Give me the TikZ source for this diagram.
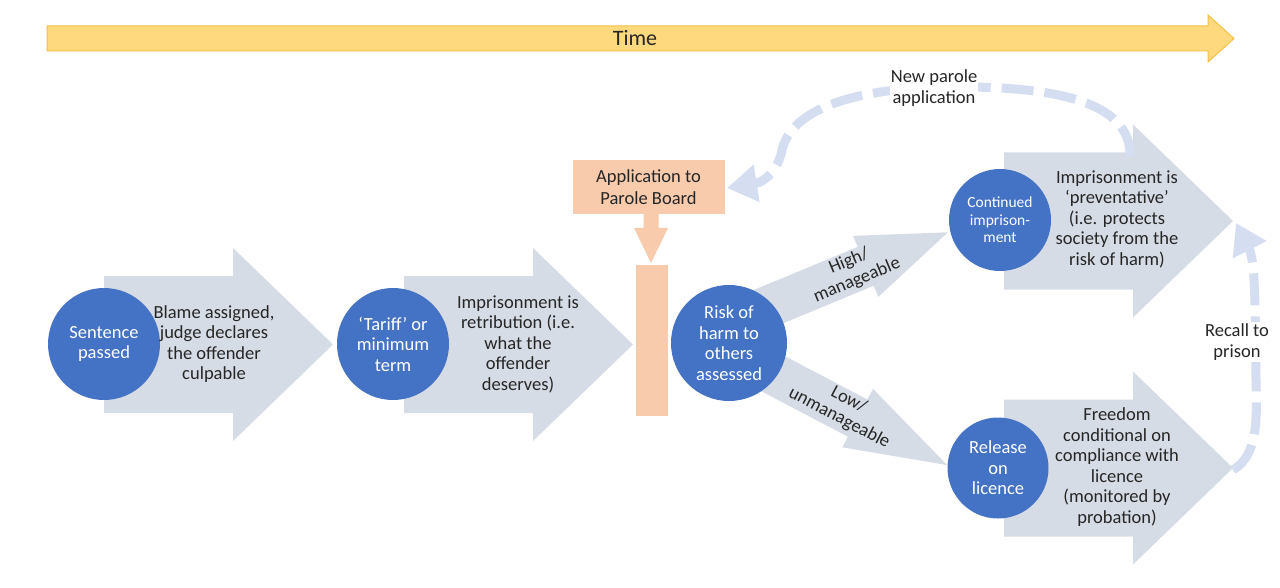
\documentclass[tikz,border=0pt]{standalone}
\usepackage{fontspec}
\setmainfont{Carlito}
\usetikzlibrary{arrows.meta}
\definecolor{cblue}{HTML}{4472C4}
\definecolor{cgray}{HTML}{D6DCE5}
\definecolor{corange}{HTML}{F8CBAD}
\definecolor{cdash}{HTML}{D4DEF0}
\definecolor{cyel}{HTML}{FFD97D}
\definecolor{cyeldark}{HTML}{F5C04A}
\definecolor{ctext}{HTML}{262626}
\newcommand{\garrow}[2]{\fill[grayarr] (#1,#2-68.5) -- ++(129,0) -- ++(0,-28) -- ++(100,96.5) -- ++(-100,96.5) -- ++(0,-28) -- ++(-129,0) -- cycle;}
\begin{document}
\begin{tikzpicture}[x=1pt,y=-1pt,
  circ/.style={circle,fill=cblue,text=white,align=center,inner sep=0pt,font=\fontsize{18.5}{20.5}\selectfont},
  bodytxt/.style={align=center,text=ctext,font=\fontsize{18.5}{20.5}\selectfont},
  grayarr/.style={fill=cgray},
  orangebox/.style={fill=corange,inner sep=0pt},
  dasharr/.style={draw=cdash,line width=9pt,dash pattern=on 32pt off 11pt,-{Triangle[length=30pt,width=36pt]}},
  lbl/.style={align=center,text=ctext,font=\fontsize{18.5}{21.5}\selectfont,fill=white,inner sep=1pt}]

\useasboundingbox (0,0) rectangle (1280,588);
\fill[white] (0,0) rectangle (1280,588);

% time arrow
\path[fill=cyel,draw=cyeldark,line width=1pt] (47,26) -- (1208,26) -- (1208,15) -- (1234,38.5) -- (1208,62) -- (1208,51) -- (47,51) -- cycle;
\node[text=ctext,font=\fontsize{22}{24}\selectfont] (time) at (635,38.5) {Time};

% big gray arrows
\garrow{104}{344.5}
\garrow{404}{344.5}
\garrow{1004}{221}
\garrow{1004}{468}

% diagonal arrows
\begin{scope}[shift={(741,318)},rotate=22.5]
  \fill[grayarr] (0,-21) -- (135,-21) -- (135,-33) -- (224,0) -- (135,33) -- (135,21) -- (0,21) -- cycle;
\end{scope}
\begin{scope}[shift={(747,360)},rotate=-27.7]
  \fill[grayarr] (0,-21) -- (125,-21) -- (125,-33) -- (226,0) -- (125,33) -- (125,21) -- (0,21) -- cycle;
\end{scope}

% orange parts
\node[orangebox,minimum width=152pt,minimum height=54pt,align=center,text=ctext,font=\fontsize{18.5}{21.5}\selectfont] (app) at (648.5,187) {Application to\\Parole Board};
\node[orangebox,minimum width=32pt,minimum height=151pt] (bar) at (652,340.5) {};
\fill[corange] (643.5,214) -- (658.5,214) -- (658.5,228) -- (668,228) -- (651,263) -- (634,228) -- (643.5,228) -- cycle;

% circles
\node[circ,minimum size=112pt] (c1) at (104,344) {Sentence\\passed};
\node[circ,minimum size=112pt] (c2) at (393,344) {‘Tariff’ or\\minimum\\term};
\node[circ,minimum size=116pt] (c3) at (729,343) {Risk of\\harm to\\others\\assessed};
\node[circ,minimum size=102pt,font=\fontsize{15.5}{17.5}\selectfont] (c4) at (1000,220) {Continued\\imprison-\\ment};
\node[circ,minimum size=101pt] (c5) at (998,468) {Release\\on\\licence};

% texts in arrows
\node[bodytxt] (t1) at (214,344) {Blame assigned,\\judge declares\\the offender\\culpable};
\node[bodytxt] (t2) at (518,344) {Imprisonment is\\retribution (i.e.\\what the\\offender\\deserves)};
\node[bodytxt] (t3) at (1117,219) {Imprisonment is\\‘preventative’\\(i.e. protects\\society from the\\risk of harm)};
\node[bodytxt] (t4) at (1117,467) {Freedom\\conditional on\\compliance with\\licence\\(monitored by\\probation)};

% diagonal labels
\node[bodytxt,rotate=22.5] (hi) at (853,271) {High/\\manageable};
\node[bodytxt,rotate=-27.7] (lo) at (844,409) {Low/\\unmanageable};

% dashed connectors
\coordinate (upstart) at (1130,157);
\coordinate (apptip) at (727,188);
\coordinate (relstart) at (1233,470);
\coordinate (contip) at (1236,223);
\draw[dasharr] (upstart) .. controls (1132,100) and (1050,86) .. (950,87) .. controls (840,88) and (790,115) .. (782,150) .. controls (778,170) and (765,182) .. (apptip);
\draw[dasharr] (relstart) .. controls (1258,455) and (1257,420) .. (1256,380) .. controls (1255,320) and (1256,262) .. (contip);

\node[lbl] (np) at (934,88) {New parole\\application};
\node[lbl] (rc) at (1237,342) {Recall to\\prison};
\end{tikzpicture}
\end{document}
